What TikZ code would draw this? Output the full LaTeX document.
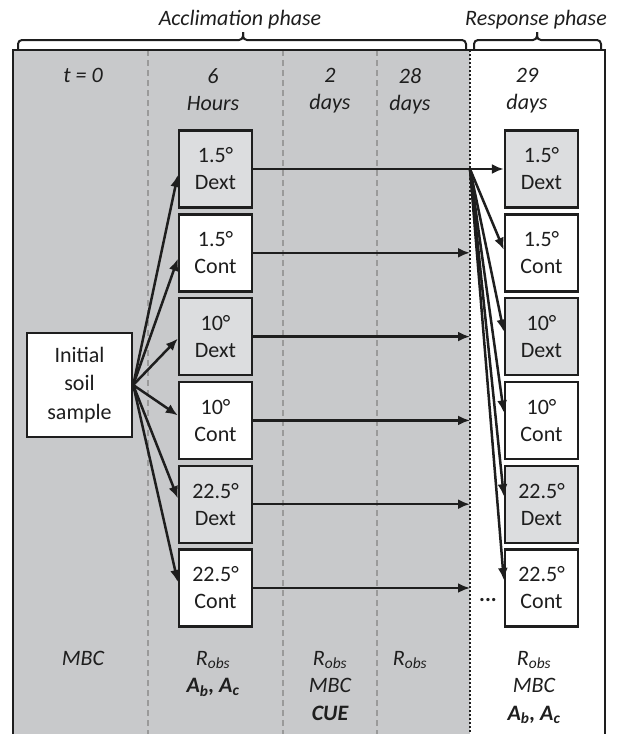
\documentclass[tikz,border=0pt]{standalone}
\usepackage{fontspec}
\setmainfont{Carlito}
\usetikzlibrary{arrows.meta}
\definecolor{bggray}{HTML}{C8C9CB}
\definecolor{dextgray}{HTML}{DCDDDF}
\definecolor{txt}{HTML}{1E1E1E}
\definecolor{dashgray}{HTML}{9A9A9A}
\begin{document}
\begin{tikzpicture}[x=1pt,y=-1pt,
  lbl/.style={font=\fontsize{22}{27}\selectfont, text=txt, align=center, inner sep=0pt},
  ital/.style={lbl, font=\fontsize{22}{27.5}\selectfont\itshape},
  box/.style={lbl, draw=txt, line width=2.4pt, minimum width=73pt, minimum height=77pt, fill=white},
  dext/.style={box, fill=dextgray},
  arr/.style={draw=txt, line width=2.5pt, -{Latex[length=12pt,width=10pt]}},
  bracepath/.style={draw=txt, line width=2pt, rounded corners=4pt}]
\useasboundingbox (0,0) rectangle (618,734);
% background and column separators
\fill[bggray] (13,50) rectangle (470,734);
\foreach \x in {148,283,377}
  \draw[dashgray, line width=1.5pt, dash pattern=on 6pt off 4pt] (\x,50) -- (\x,734);
\coordinate (dot) at (470,50);
\draw[txt, line width=1.5pt, dash pattern=on 2pt off 2pt] (dot) -- (470,734);
\draw[txt, line width=2.5pt] (13,734) -- (13,50) -- (605,50) -- (605,734);
% braces
\draw[bracepath] (18,50) -- (18,40) -- (243,40) -- (243,32);
\draw[bracepath] (243,32) -- (243,40) -- (466,40) -- (466,50);
\draw[bracepath] (474,50) -- (474,40) -- (537,40) -- (537,32);
\draw[bracepath] (537,32) -- (537,40) -- (601,40) -- (601,50);
\node[ital, anchor=base] (acc) at (240,25) {Acclimation phase};
\node[ital, anchor=base] (resp) at (536,25) {Response phase};
% headers
\node[ital, anchor=north] (t0) at (83,68) {t = 0};
\node[ital, anchor=north] (h1) at (213,68) {6\\Hours};
\node[ital, anchor=north] (h2) at (330,68) {2\\days};
\node[ital, anchor=north] (h3) at (410,68) {28\\days};
\node[ital, anchor=north] (h4) at (527,68) {29\\days};
% boxes
\node[box, minimum width=105pt, minimum height=104pt, font=\fontsize{22}{28.5}\selectfont] (init) at (79.5,385) {Initial\\soil\\sample};
\node[dext] (lb0) at (215.5,169) {1.5°\\Dext};
\node[box]  (lb1) at (215.5,252.8) {1.5°\\Cont};
\node[dext] (lb2) at (215.5,336.6) {10°\\Dext};
\node[box]  (lb3) at (215.5,420.4) {10°\\Cont};
\node[dext] (lb4) at (215.5,504.2) {22.5°\\Dext};
\node[box]  (lb5) at (215.5,588) {22.5°\\Cont};
\node[dext] (rb0) at (541.5,169) {1.5°\\Dext};
\node[box]  (rb1) at (541.5,252.8) {1.5°\\Cont};
\node[dext] (rb2) at (541.5,336.6) {10°\\Dext};
\node[box]  (rb3) at (541.5,420.4) {10°\\Cont};
\node[dext] (rb4) at (541.5,504.2) {22.5°\\Dext};
\node[box]  (rb5) at (541.5,588) {22.5°\\Cont};
% arrows from the initial sample
\foreach \i/\s in {0/-6,1/-6,2/-2,3/5,4/6,5/6}
  \draw[arr] (init.east) -- ([yshift=\s pt]lb\i.west);
% horizontal arrows
\draw[arr] (lb0.east) -- (rb0.west);
\foreach \i in {1,...,5}
  \draw[arr] (lb\i.east) -- (lb\i.east -| dot);
\coordinate (fan) at (lb0.east -| dot);
\foreach \i/\s in {1/3,2/5,3/8,4/8,5/8}
  \draw[arr] (fan) -- ([yshift=\s pt]rb\i.west);
\node[lbl, anchor=base] (dots) at (488,601) {\textbf{...}};
% bottom labels
\node[ital, anchor=north] (b1) at (83,651) {MBC};
\node[ital, anchor=north] (b2) at (213,651) {R\textsubscript{obs}\\\textbf{A\textsubscript{b}, A\textsubscript{c}}};
\node[ital, anchor=north] (b3) at (330,651) {R\textsubscript{obs}\\MBC\\\textbf{CUE}};
\node[ital, anchor=north] (b4) at (410,651) {R\textsubscript{obs}};
\node[ital, anchor=north] (b5) at (534,651) {R\textsubscript{obs}\\MBC\\\textbf{A\textsubscript{b}, A\textsubscript{c}}};
\end{tikzpicture}
\end{document}
